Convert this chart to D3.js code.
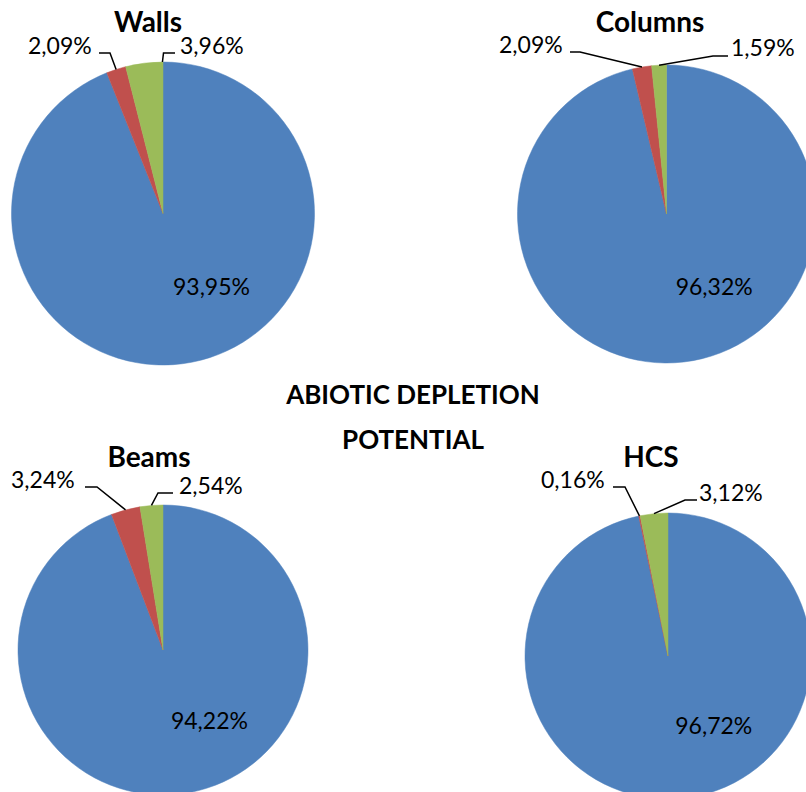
<!DOCTYPE html>
<html>
<head>
<meta charset="utf-8">
<script src="https://cdn.jsdelivr.net/npm/d3@7"></script>
<style>
  html, body { margin: 0; padding: 0; background: #fff; }
  svg { display: block; }
  text { font-family: Lato, "Open Sans", sans-serif; fill: #000; }
</style>
</head>
<body>
<svg id="chart" width="806" height="792"></svg>
<script>
// ---- data ----
const categories = ["Blue", "Red", "Green"];
const charts = ["Walls", "Columns", "Beams", "HCS"];
const wallsValues   = [93.95, 2.09, 3.96];
const columnsValues = [96.32, 2.09, 1.59];
const beamsValues   = [94.22, 3.24, 2.54];
const hcsValues     = [96.72, 0.16, 3.12];
const valueLabels = [
  ["93,95%", "2,09%", "3,96%"],
  ["96,32%", "2,09%", "1,59%"],
  ["94,22%", "3,24%", "2,54%"],
  ["96,72%", "0,16%", "3,12%"]
];
const mainTitle = ["ABIOTIC DEPLETION", "POTENTIAL"];
const colors = ["#4F81BD", "#C0504D", "#9BBB59"];

// ---- layout (positions only) ----
const layout = [
  { cx: 163, cy: 213.5, r: 151.5, title: [148, 32],
    outer: [null,
      { text: [28, 54], anchor: "start", elbow: [110, 53], end: [99, 53], frac: 0.5 },
      { text: [180, 54], anchor: "start", elbow: [163.5, 53], end: [175, 53], frac: 0.985 }] },
  { cx: 666.5, cy: 214, r: 149, title: [650, 32],
    outer: [null,
      { text: [499, 53], anchor: "start", elbow: [580, 52], end: [570, 52], frac: 0.5 },
      { text: [731, 56], anchor: "start", elbow: [713, 56], end: [728, 56], frac: 0.5 }] },
  { cx: 163, cy: 650, r: 145, title: [149, 467],
    outer: [null,
      { text: [11, 488], anchor: "start", elbow: [97, 487], end: [85, 487], frac: 0.5 },
      { text: [179, 494], anchor: "start", elbow: [158, 493], end: [173, 493], frac: 0.5 }] },
  { cx: 668, cy: 656, r: 143, title: [651, 467],
    outer: [null,
      { text: [541, 488], anchor: "start", elbow: [625, 487], end: [613, 487], frac: 0.5 },
      { text: [699, 501], anchor: "start", elbow: [685, 500], end: [697, 500], frac: 0.5 }] }
];

const allValues = [wallsValues, columnsValues, beamsValues, hcsValues];
const svg = d3.select("#chart");
const pie = d3.pie().sort(null).value(d => d);
const color = d3.scaleOrdinal().domain(categories).range(colors);

charts.forEach((name, ci) => {
  const L = layout[ci];
  const vals = allValues[ci];
  const arcs = pie(vals);
  const arc = d3.arc().innerRadius(0).outerRadius(L.r);
  const g = svg.append("g").attr("transform", `translate(${L.cx},${L.cy})`);

  g.selectAll("path.slice").data(arcs).enter().append("path")
    .attr("class", "slice")
    .attr("d", arc)
    .attr("fill", (d, i) => color(categories[i]))
    .attr("stroke", (d, i) => color(categories[i]))
    .attr("stroke-width", 0.5);

  // inner label for big slice
  g.append("text")
    .attr("x", 0.32 * L.r)
    .attr("y", 0.48 * L.r)
    .attr("text-anchor", "middle")
    .attr("dominant-baseline", "central")
    .style("font-size", "23px")
    .text(valueLabels[ci][0]);

  // outer labels with leader lines
  arcs.forEach((a, i) => {
    const o = L.outer[i];
    if (!o) return;
    const ang = a.startAngle + (a.endAngle - a.startAngle) * o.frac;
    const px = L.cx + L.r * Math.sin(ang);
    const py = L.cy - L.r * Math.cos(ang);
    svg.append("polyline")
      .attr("points", [[px, py], o.elbow, o.end].map(p => p.join(",")).join(" "))
      .attr("fill", "none")
      .attr("stroke", "#000")
      .attr("stroke-width", 1.5);
    svg.append("text")
      .attr("x", o.text[0])
      .attr("y", o.text[1])
      .attr("text-anchor", o.anchor)
      .style("font-size", "23px")
      .text(valueLabels[ci][i]);
  });

  svg.append("text")
    .attr("x", L.title[0])
    .attr("y", L.title[1])
    .attr("text-anchor", "middle")
    .style("font-size", "28px")
    .style("font-weight", "bold")
    .text(name);
});

svg.selectAll("text.main").data(mainTitle).enter().append("text")
  .attr("class", "main")
  .attr("x", 413)
  .attr("y", (d, i) => 404 + i * 45)
  .attr("text-anchor", "middle")
  .style("font-size", "26px")
  .style("font-weight", "bold")
  .text(d => d);
</script>
</body>
</html>
